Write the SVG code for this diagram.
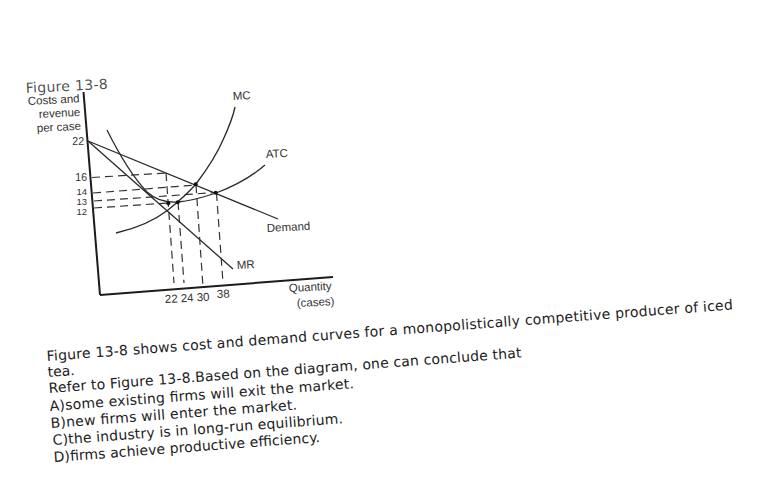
<svg xmlns="http://www.w3.org/2000/svg" width="767" height="498" viewBox="0 0 767 498">
<style>
.ax{fill:none;stroke:#1c1c1c;stroke-width:2}
.cv{fill:none;stroke:#2a2a2a;stroke-width:1.3}
.da{fill:none;stroke:#333;stroke-width:1.2;stroke-dasharray:8 5}
.pt{fill:#111}
.lb{font-family:"Liberation Sans",Arial,sans-serif;font-size:11.5px;fill:#333}
.tk{font-family:"Liberation Sans",Arial,sans-serif;font-size:10.5px;fill:#333;text-anchor:end}
.ts{font-size:9.5px}
.q{font-family:"DejaVu Sans",Verdana,sans-serif;font-size:14px;fill:#222}
</style>
<rect width="767" height="498" fill="#fff"/>
<text class="q" x="26" y="93" transform="rotate(-3 26 93)" fill-opacity="0.8" textLength="82">Figure 13-8</text>
<g id="connectors">
<path id="y-axis" class="ax" d="M83.5 92L100 295"/>
<path id="x-axis" class="ax" d="M100 295L333 277"/>
<path id="demand" class="cv" d="M88 141L278 219"/>
<path id="mr" class="cv" d="M88 141L233 269"/>
<path id="mc" class="cv" d="M116 233C138 228 155 220 168 210C178 202 187 194 196 184C208 168 217 154 223 140C229 127 233 117 235 107"/>
<path id="atc" class="cv" d="M107 130C118 152 130 174 147 192C156 200 165 203 178 202C192 201 204 197 216 193C232 187 250 178 265 165"/>
<path class="da" d="M92 177.5L166 173"/>
<path class="da" d="M93 193L196 185"/>
<path class="da" d="M94 201L216 192.5"/>
<path class="da" d="M94 208L168 203"/>
<path class="da" d="M166 173L174 283"/>
<path class="da" d="M178 202L184 283"/>
<path class="da" d="M196 185L203 287"/>
<path class="da" d="M216.5 193L223 283"/>
</g>
<g id="points">
<circle class="pt" cx="168.3" cy="203.3" r="2"/>
<circle class="pt" cx="177.7" cy="202.3" r="2"/>
<circle class="pt" cx="195.7" cy="184.3" r="2"/>
<circle class="pt" cx="215.7" cy="192.7" r="2"/>
</g>
<g id="axis-labels">
<text class="lb" x="28" y="105" transform="rotate(-3 28 105)">Costs and</text>
<text class="lb" x="39" y="118" transform="rotate(-3 39 118)">revenue</text>
<text class="lb" x="37" y="132" transform="rotate(-3 37 132)">per case</text>
<text class="tk" x="84" y="145">22</text>
<text class="tk" x="87" y="181">16</text>
<text class="tk ts" x="87" y="195">14</text>
<text class="tk ts" x="87" y="205">13</text>
<text class="tk ts" x="87" y="215">12</text>
<text class="lb" x="165" y="303" transform="rotate(-3 165 303)">22 24 30</text>
<text class="lb" x="217" y="298" transform="rotate(-3 217 298)">38</text>
<text class="lb" x="289" y="292" transform="rotate(-3 289 292)">Quantity</text>
<text class="lb" x="297" y="307" transform="rotate(-3 297 307)">(cases)</text>
</g>
<g id="curve-labels">
<text class="lb" x="233" y="100" transform="rotate(-3 233 100)">MC</text>
<text class="lb" x="266" y="158" transform="rotate(-3 266 158)">ATC</text>
<text class="lb" x="267" y="232" transform="rotate(-3 267 232)">Demand</text>
<text class="lb" x="237" y="269" transform="rotate(-3 237 269)">MR</text>
</g>
<g id="question">
<text class="q" x="47" y="361" transform="rotate(-4.3 47 361)" textLength="688">Figure 13-8 shows cost and demand curves for a monopolistically competitive producer of iced</text>
<text class="q" x="48" y="377" transform="rotate(-4.3 48 377)">tea.</text>
<text class="q" x="49" y="393" transform="rotate(-4.3 49 393)" textLength="474">Refer to Figure 13-8.Based on the diagram, one can conclude that</text>
<text class="q" x="50" y="411" transform="rotate(-4.3 50 411)" textLength="305">A)some existing firms will exit the market.</text>
<text class="q" x="51" y="428" transform="rotate(-4.3 51 428)" textLength="247">B)new firms will enter the market.</text>
<text class="q" x="53" y="445" transform="rotate(-4.3 53 445)" textLength="291">C)the industry is in long-run equilibrium.</text>
<text class="q" x="54" y="462" transform="rotate(-4.3 54 462)" textLength="267">D)firms achieve productive efficiency.</text>
</g>
</svg>
